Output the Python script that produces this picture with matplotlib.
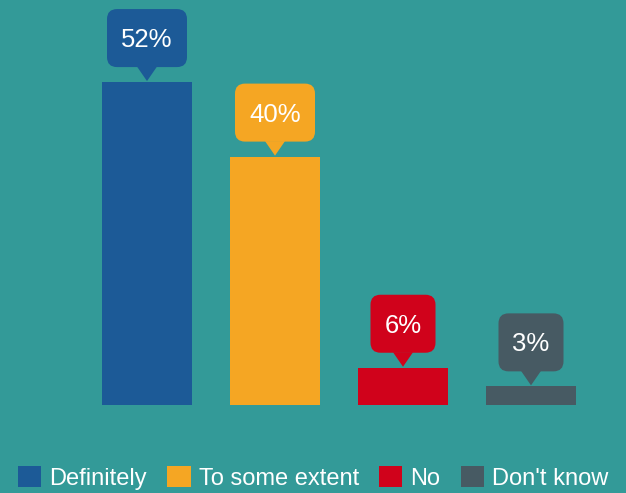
import matplotlib
matplotlib.use("Agg")
import matplotlib.pyplot as plt
from matplotlib.patches import FancyBboxPatch, Polygon, Patch
from matplotlib import transforms

categories = ["Definitely", "To some extent", "No", "Don't know"]
values = [52, 40, 6, 3]
labels = ["52%", "40%", "6%", "3%"]
colors = ["#1c5a97", "#f5a623", "#d0021b", "#475a63"]
bg = "#339a98"

plt.rcParams["font.family"] = ["Liberation Sans", "DejaVu Sans"]

W, H = 626, 493
fig = plt.figure(figsize=(W / 100, H / 100), dpi=100, facecolor=bg)
ax = fig.add_axes([83 / W, 88 / H, 512 / W, 372.6 / H])
ax.set_facecolor("none")
ax.set_xlim(-0.5, 3.5)
ax.set_ylim(0, 60)
ax.axis("off")

x = list(range(len(values)))
ax.bar(x, values, width=90 / 128, color=colors)

px = fig.dpi / 100  # one pixel of the reference
for xi, v, lab, c in zip(x, values, labels, colors):
    off = transforms.Affine2D().scale(px) + transforms.ScaledTranslation(xi, v, ax.transData)
    half = 40 if len(lab) > 2 else 32.5
    box = FancyBboxPatch((-half, 15), 2 * half, 58,
                         boxstyle="round,pad=0,rounding_size=10",
                         transform=off, facecolor=c, edgecolor="none", clip_on=False)
    tri = Polygon([(-10, 15.5), (10, 15.5), (0, 1)], closed=True,
                  transform=off, facecolor=c, edgecolor="none", clip_on=False)
    ax.add_patch(box)
    ax.add_patch(tri)
    ax.text(0, 35, lab, transform=off, ha="center", va="baseline",
            color="white", fontsize=18.5)

handles = [Patch(facecolor=c, edgecolor="none") for c in colors]
fig.legend(handles, categories, loc="upper center", bbox_to_anchor=(0.5, 27 / H),
           ncol=4, frameon=False, fontsize=17, handlelength=1.0, handleheight=1.0,
           handletextpad=0.34, columnspacing=0.85, labelcolor="white",
           borderpad=0, borderaxespad=0)

fig.savefig("out.png", dpi=100, facecolor=bg)
